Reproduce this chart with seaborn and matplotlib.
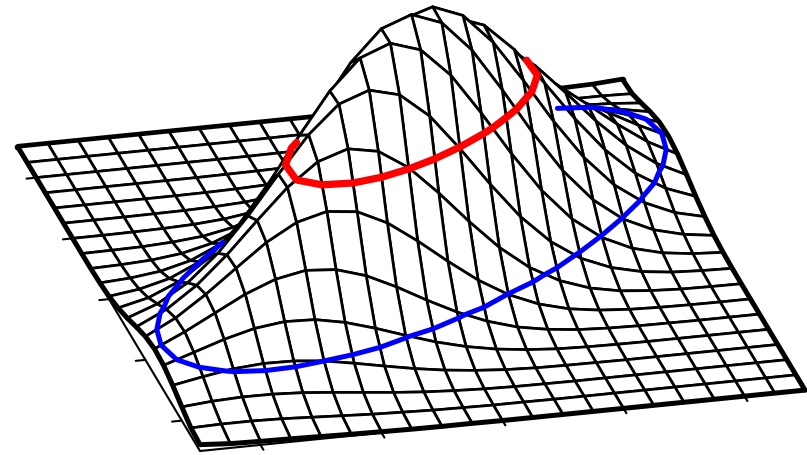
import numpy as np
import matplotlib
matplotlib.use("Agg")
import matplotlib.pyplot as plt
import seaborn as sns
from mpl_toolkits.mplot3d import proj3d

sns.set_theme(style="white")

# Heights, percent of the peak. Rows run front to back,
# values in each row run left to right.
row_00 = [2.5, 1.7, 1.4, 1.2, 0.9, 0.6, 0.4, 0.2, 0.1, 0.1, 0, 0, 0, 0, 0, 0, 0, 0, 0, 0, 0]
row_01 = [3.1, 3.4, 3.4, 3.1, 2.5, 1.9, 1.3, 0.9, 0.5, 0.3, 0.1, 0.1, 0, 0, 0, 0, 0, 0, 0, 0, 0]
row_02 = [5.4, 6.4, 6.9, 6.8, 6.2, 5.1, 3.9, 2.7, 1.7, 1.0, 0.5, 0.2, 0.1, 0, 0, 0, 0, 0, 0, 0, 0]
row_03 = [7.9, 10.1, 12.0, 12.9, 12.7, 11.5, 9.4, 7.1, 4.9, 3.1, 1.8, 0.9, 0.4, 0.2, 0.1, 0, 0, 0, 0, 0, 0]
row_04 = [9.8, 13.7, 17.6, 20.7, 22.2, 21.8, 19.5, 16.0, 12.0, 8.2, 5.2, 3.0, 1.6, 0.7, 0.3, 0.1, 0, 0, 0, 0, 0]
row_05 = [10.3, 15.8, 22.0, 28.2, 32.9, 35.2, 34.3, 30.7, 25.1, 18.7, 12.8, 8.0, 4.5, 2.4, 1.1, 0.5, 0.2, 0.1, 0, 0, 0]
row_06 = [9.2, 15.3, 23.4, 32.5, 41.4, 48.1, 51.2, 49.9, 44.3, 36.0, 26.8, 18.2, 11.3, 6.4, 3.3, 1.6, 0.7, 0.3, 0.1, 0, 0]
row_07 = [7.0, 12.7, 21.0, 31.8, 44.1, 55.9, 64.8, 68.7, 66.5, 58.9, 47.7, 35.3, 23.9, 14.8, 8.4, 4.3, 2.0, 0.9, 0.3, 0.1, 0]
row_08 = [4.5, 8.9, 16.0, 26.4, 39.9, 55.1, 69.5, 80.3, 84.6, 81.6, 72.0, 58.0, 42.8, 28.8, 17.8, 10.0, 5.2, 2.4, 1.0, 0.4, 0.1]
row_09 = [2.5, 5.3, 10.4, 18.6, 30.6, 46.0, 63.3, 79.5, 91.3, 95.9, 92.1, 80.9, 64.9, 47.7, 32.0, 19.6, 11.0, 5.6, 2.6, 1.1, 0.4]
row_10 = [1.1, 2.7, 5.7, 11.1, 19.9, 32.6, 48.8, 66.8, 83.6, 95.6, 100, 95.6, 83.6, 66.8, 48.8, 32.6, 19.9, 11.1, 5.7, 2.7, 1.1]
row_11 = [0.4, 1.1, 2.6, 5.6, 11.0, 19.6, 32.0, 47.7, 64.9, 80.9, 92.1, 95.9, 91.3, 79.5, 63.3, 46.0, 30.6, 18.6, 10.4, 5.3, 2.5]
row_12 = [0.1, 0.4, 1.0, 2.4, 5.2, 10.0, 17.8, 28.8, 42.8, 58.0, 72.0, 81.6, 84.6, 80.3, 69.5, 55.1, 39.9, 26.4, 16.0, 8.9, 4.5]
row_13 = [0, 0.1, 0.3, 0.9, 2.0, 4.3, 8.4, 14.8, 23.9, 35.3, 47.7, 58.9, 66.5, 68.7, 64.8, 55.9, 44.1, 31.8, 21.0, 12.7, 7.0]
row_14 = [0, 0, 0.1, 0.3, 0.7, 1.6, 3.3, 6.4, 11.3, 18.2, 26.8, 36.0, 44.3, 49.9, 51.2, 48.1, 41.4, 32.5, 23.4, 15.3, 9.2]
row_15 = [0, 0, 0, 0.1, 0.2, 0.5, 1.1, 2.4, 4.5, 8.0, 12.8, 18.7, 25.1, 30.7, 34.3, 35.2, 32.9, 28.2, 22.0, 15.8, 10.3]
row_16 = [0, 0, 0, 0, 0, 0.1, 0.3, 0.7, 1.6, 3.0, 5.2, 8.2, 12.0, 16.0, 19.5, 21.8, 22.2, 20.7, 17.6, 13.7, 9.8]
row_17 = [0, 0, 0, 0, 0, 0, 0.1, 0.2, 0.4, 0.9, 1.8, 3.1, 4.9, 7.1, 9.4, 11.5, 12.7, 12.9, 12.0, 10.1, 7.9]
row_18 = [0, 0, 0, 0, 0, 0, 0, 0, 0.1, 0.2, 0.5, 1.0, 1.7, 2.7, 3.9, 5.1, 6.2, 6.8, 6.9, 6.4, 5.4]
row_19 = [0, 0, 0, 0, 0, 0, 0, 0, 0, 0.1, 0.1, 0.3, 0.5, 0.9, 1.3, 1.9, 2.5, 3.1, 3.4, 3.4, 3.1]
row_20 = [0, 0, 0, 0, 0, 0, 0, 0, 0, 0, 0, 0.1, 0.1, 0.2, 0.4, 0.6, 0.9, 1.2, 1.4, 1.7, 2.5]

x_grid = [0, .05, .1, .15, .2, .25, .3, .35, .4, .45, .5, .55, .6, .65, .7, .75, .8, .85, .9, .95, 1]
y_grid = [0, .05, .1, .15, .2, .25, .3, .35, .4, .45, .5, .55, .6, .65, .7, .75, .8, .85, .9, .95, 1]
tick_pos = [0.1, 0.3, 0.5, 0.7, 0.9]
blue_level = 11.5
red_level = 58.5
# chords (relative to the surface centre) that separate the visible front arc
# of each level curve from the part hidden behind the hump
blue_cut = [(-0.31, 0.06), (0.367, 0.378)]
red_cut = [(-0.2, -0.029), (0.222, 0.167)]

BLACK = "#000000"
X, Y = np.meshgrid(x_grid, y_grid)
Z = np.array([row_00, row_01, row_02, row_03, row_04, row_05, row_06, row_07, row_08, row_09, row_10,
              row_11, row_12, row_13, row_14, row_15, row_16, row_17, row_18, row_19, row_20])

fig = plt.figure(figsize=(8.07, 4.55), dpi=100)
fig.patch.set_facecolor("white")
ax = fig.add_axes([0, 0, 1, 1], projection="3d", computed_zorder=False, proj_type="ortho")
ax.set_axis_off()
ax.view_init(elev=24.2, azim=-103.8)
ax.set_xlim(0, 1); ax.set_ylim(0, 1); ax.set_zlim(0, 100)
ax.set_box_aspect((623, 763, 278.5))


def ring(level, cut):
    tf, ta = plt.subplots()
    cs = ta.contour(X, Y, Z, levels=[level])
    v = max(cs.get_paths(), key=lambda p: len(p.vertices)).vertices[:-1]
    plt.close(tf)
    (a, b), (c, d) = cut
    du, dv = v[:, 0] - .5, v[:, 1] - .5
    keep = (c - a) * (dv - b) - (d - b) * (du - a) < 0
    first = int(np.argmin(keep))
    v = np.roll(v, -first, axis=0)
    keep = np.roll(keep, -first)
    return v[keep]


# base plane lines and ticks, behind the surface
ax.plot([0, 0], [0, 1], [0, 0], color=BLACK, lw=1.5, zorder=1)
ax.plot([0, 1], [0, 0], [0, 0], color=BLACK, lw=1.5, zorder=1)
for t in tick_pos:
    ax.plot([t, t], [0, -0.016], [0, 0], color=BLACK, lw=1.5, zorder=1)
    ax.plot([0, -0.016], [t, t], [0, 0], color=BLACK, lw=1.5, zorder=1)
ax.plot(X[-1], Y[-1], Z[-1], color=BLACK, lw=4.8, zorder=1, solid_capstyle="round")

ax.plot_surface(X, Y, Z, rstride=1, cstride=1, color="white", edgecolor=BLACK,
                linewidth=1.95, shade=False, antialiased=True, zorder=2, joinstyle="round")

for xs, ys, zs in [(X[:, 0], Y[:, 0], Z[:, 0]), (X[:, -1], Y[:, -1], Z[:, -1]), (X[0], Y[0], Z[0])]:
    ax.plot(xs, ys, zs, color=BLACK, lw=3.6, zorder=3, solid_capstyle="round", solid_joinstyle="round")

for level, cut, col, lw in [(blue_level, blue_cut, "#0000ff", 3.6), (red_level, red_cut, "#ff0000", 5.2)]:
    r = ring(level, cut)
    ax.plot(r[:, 0], r[:, 1], np.full(len(r), level), color=col, lw=lw, zorder=4,
            solid_capstyle="round", solid_joinstyle="round")

# fit the square axes so the base corners land where they sit in the picture
S0 = 455
ax.set_position([0, 0, S0 / 807, S0 / 455])
fig.canvas.draw()
tx, ty, _ = proj3d.proj_transform(np.array([0., 1.]), np.array([0., 0.]), np.array([0., 0.]), ax.get_proj())
px = ax.transData.transform(np.c_[tx, ty])
bb = ax.get_position().transformed(fig.transFigure)
k = 605 / (px[1, 0] - px[0, 0])
S = bb.width * k
L = 200 - (px[0, 0] - bb.x0) * k
B = (455 - 451) - (px[0, 1] - bb.y0) * k
ax.set_position([L / 807, B / 455, S / 807, S / 455])

fig.savefig("out.png", dpi=100)
